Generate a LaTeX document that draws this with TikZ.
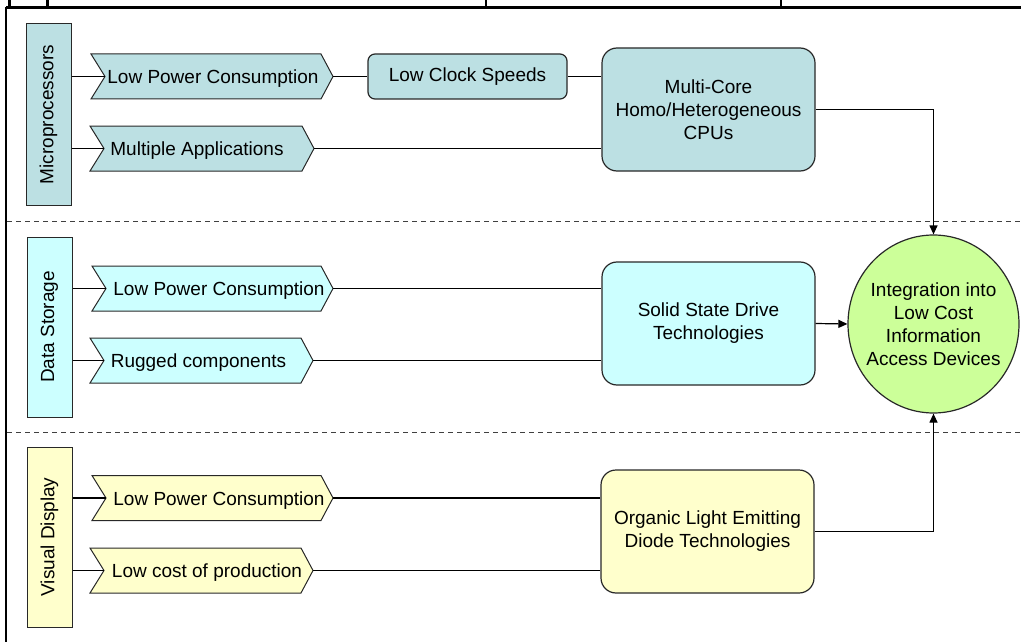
\documentclass[tikz,border=0pt]{standalone}
\usepackage{fontspec}
\setmainfont{Liberation Sans}
\usetikzlibrary{arrows.meta,shapes.geometric}
\definecolor{micro}{RGB}{188,224,227}
\definecolor{store}{RGB}{204,255,255}
\definecolor{disp}{RGB}{255,255,204}
\definecolor{integ}{RGB}{204,255,153}
\definecolor{edgecol}{RGB}{40,40,40}
\tikzset{
  catbar/.style={draw=edgecol, line width=1pt, minimum width=45pt, inner sep=0pt},
  chevshape/.style={draw=edgecol, line width=1pt, line join=miter},
  lbl/.style={inner sep=0pt},
  bigbox/.style={draw=edgecol, line width=1.2pt, rounded corners=15pt, align=center,
    minimum width=213pt, minimum height=123pt, inner sep=0pt},
  smallbox/.style={draw=edgecol, line width=1.2pt, rounded corners=7pt, align=center,
    minimum width=199pt, minimum height=45pt, inner sep=0pt},
  conn/.style={draw=black, line width=1.2pt},
  arr/.style={conn, -{Triangle[length=9pt,width=8pt]}},
  sepline/.style={draw=black!75, line width=1pt, dash pattern=on 5pt off 4pt},
}
% name, fill, left x, right x, centre y, text x, text
\newcommand\mychev[7]{%
  \draw[chevshape, fill=#2] (#3,#5-22.5) -- (#4,#5-22.5) -- (#4+12,#5) -- (#4,#5+22.5)
     -- (#3,#5+22.5) -- (#3+14,#5) -- cycle;
  \coordinate (#1w) at (#3+14,#5);
  \coordinate (#1e) at (#4+12,#5);
  \node[lbl] (#1) at (#6,#5+2.5) {#7};
}
\begin{document}
\begin{tikzpicture}[x=1pt,y=-1pt, every node/.append style={font=\fontsize{19}{23}\selectfont}]
\useasboundingbox (0,0) rectangle (1021,642);

% frame
\draw[line width=3.6pt] (6,7.5) -- (1021,7.5);
\foreach \xx in {9.5,47.5,486,781} \draw[line width=2.5pt] (\xx,0) -- (\xx,7.5);
\draw[line width=1.2pt] (6,7.5) -- (6,642);

% separators
\draw[sepline] (7,221) -- (1021,221);
\draw[sepline] (7,432) -- (1021,432);

% category bars
\node[catbar, fill=micro, minimum height=181pt] (mp) at (48.5,114.5) {\rotatebox{90}{Microprocessors}};
\node[catbar, fill=store, minimum height=180pt] (ds) at (49.5,327) {\rotatebox{90}{Data Storage}};
\node[catbar, fill=disp, minimum height=180pt] (vd) at (49.5,537) {\rotatebox{90}{Visual Display}};

% chevrons
\mychev{mpa}{micro}{91}{321}{76.5}{213}{Low Power Consumption}
\mychev{mpb}{micro}{90}{302}{148.5}{197}{Multiple Applications}
\mychev{dsa}{store}{92}{321}{288.5}{219}{Low Power Consumption}
\mychev{dsb}{store}{90}{301}{360.5}{198.5}{Rugged components}
\mychev{vda}{disp}{92}{321}{498}{219}{Low Power Consumption}
\mychev{vdb}{disp}{90}{301}{570.5}{207}{Low cost of production}

% boxes
\node[smallbox, fill=micro] (clock) at (467.5,76.5) {Low Clock Speeds};
\node[bigbox, fill=micro] (mc) at (708.5,109.5) {Multi-Core\\Homo/Heterogeneous\\CPUs};
\node[bigbox, fill=store] (ssd) at (708.5,323.5) {Solid State Drive\\Technologies};
\node[bigbox, fill=disp] (oled) at (707.5,531.5) {Organic Light Emitting\\Diode Technologies};
\node[ellipse, draw=edgecol, line width=1.2pt, fill=integ, minimum width=171pt,
      minimum height=178pt, inner xsep=-15pt, inner ysep=0pt, align=center] (int) at (933.5,324)
      {Integration into\\Low Cost\\Information\\Access Devices};

% connectors: bars to chevrons
\foreach \c in {mpa,mpb} \draw[conn] (\c w -| mp.east) -- (\c w);
\foreach \c in {dsa,dsb} \draw[conn] (\c w -| ds.east) -- (\c w);
\foreach \c in {vda,vdb} \draw[conn] (\c w -| vd.east) -- (\c w);

% chevrons to boxes
\draw[conn] (mpae) -- (clock.west);
\draw[conn] (clock.east) -- (clock.east -| mc.west);
\draw[conn] (mpbe) -- (mpbe -| mc.west);
\draw[conn] (dsae) -- (dsae -| ssd.west);
\draw[conn] (dsbe) -- (dsbe -| ssd.west);
\draw[conn] (vdae) -- (vdae -| oled.west);
\draw[conn] (vdbe) -- (vdbe -| oled.west);

% boxes to integration
\draw[arr] (mc.east) -| (int.north);
\draw[arr] (ssd.east) -- (int.west);
\draw[arr] (oled.east) -| (int.south);
\end{tikzpicture}
\end{document}
